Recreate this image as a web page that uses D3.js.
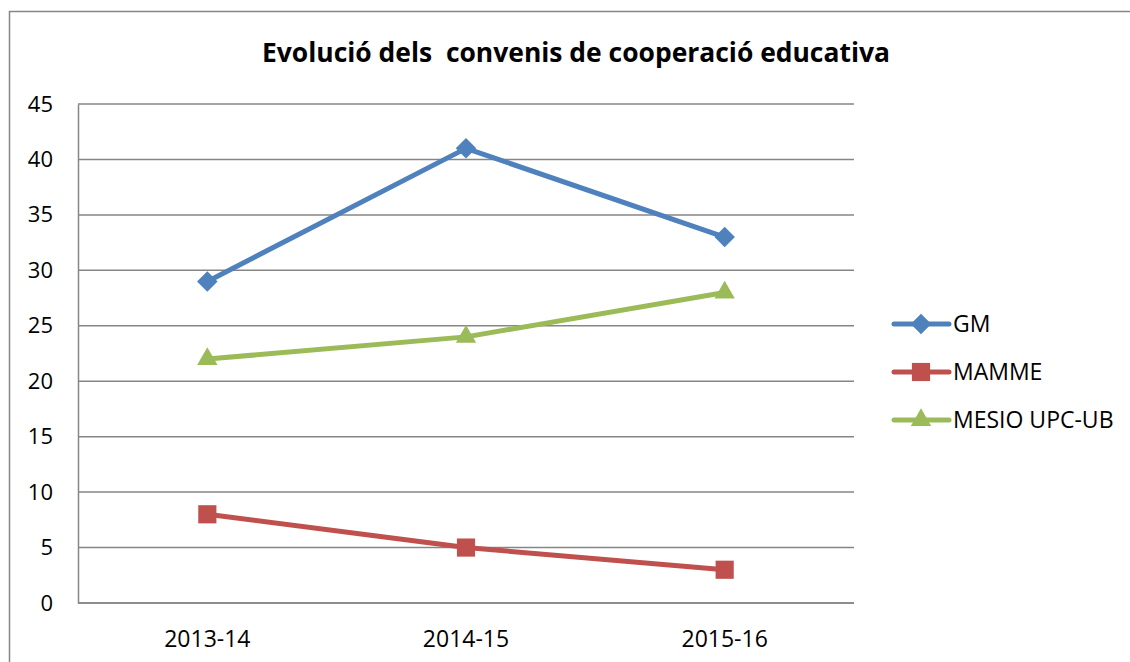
<script src="https://cdn.jsdelivr.net/npm/d3@7"></script>
<style>
  body { margin: 0; background: #fff; }
  svg { display: block; }
  text { font-family: "Open Sans", "Noto Sans", sans-serif; fill: #000; }
</style>
<body></body>
<script>
  // data
  var categories = ["2013-14", "2014-15", "2015-16"];
  var seriesNames = ["GM", "MAMME", "MESIO UPC-UB"];
  var gmValues = [29, 41, 33];
  var mammeValues = [8, 5, 3];
  var mesioValues = [22, 24, 28];
  var yTicks = [0, 5, 10, 15, 20, 25, 30, 35, 40, 45];
  var title = "Evolució dels  convenis de cooperació educativa";

  var width = 1130, height = 662;
  var margin = {top: 104, right: 276, bottom: 59, left: 78};
  var colors = ["#4F81BD", "#C0504D", "#9BBB59"];
  var shapes = ["diamond", "square", "triangle"];
  var series = seriesNames.map(function(n, i) {
    return {name: n, values: [gmValues, mammeValues, mesioValues][i], color: colors[i], shape: shapes[i]};
  });

  // marker shapes (diamond = rotated square)
  function marker(shape) {
    if (shape === 'diamond') return d3.symbol().type(d3.symbolSquare).size(210)();
    if (shape === 'square') return d3.symbol().type(d3.symbolSquare).size(330)();
    return d3.symbol().type(d3.symbolTriangle).size(180)();
  }
  function rot(shape) { return shape === 'diamond' ? ' rotate(45)' : ''; }

  var svg = d3.select('body').append('svg')
    .attr('width', width).attr('height', height);

  // outer chart frame
  svg.append('rect')
    .attr('x', 9.5).attr('y', 11.5)
    .attr('width', 1140).attr('height', 700)
    .attr('fill', 'none').attr('stroke', '#868686').attr('stroke-width', 1.5);

  var xScale = d3.scaleBand()
    .domain(categories)
    .range([margin.left, width - margin.right]);
  var yScale = d3.scaleLinear()
    .domain([0, 45])
    .range([height - margin.bottom, margin.top]);

  // gridlines
  svg.append('g').selectAll('line')
    .data(yTicks)
    .enter().append('line')
    .attr('x1', margin.left).attr('x2', width - margin.right)
    .attr('y1', d => yScale(d)).attr('y2', d => yScale(d))
    .attr('stroke', '#868686').attr('stroke-width', 1.5);

  // y axis
  var yAxis = svg.append('g')
    .attr('transform', 'translate(' + [margin.left, 0] + ')')
    .call(d3.axisLeft(yScale).tickValues(yTicks).tickSize(0).tickPadding(25));
  yAxis.select('.domain').attr('stroke', '#868686').attr('stroke-width', 1.5);
  yAxis.selectAll('text').style('font-size', '22px').attr('fill', '#000')
    .style('font-family', '"Open Sans", sans-serif');

  // x axis
  var xAxis = svg.append('g')
    .attr('transform', 'translate(' + [0, height - margin.bottom] + ')')
    .call(d3.axisBottom(xScale).tickSize(0).tickPadding(28));
  xAxis.select('.domain').attr('d', 'M' + margin.left + ',0H' + (width - margin.right))
    .attr('stroke', '#868686').attr('stroke-width', 1.5);
  xAxis.selectAll('text').style('font-size', '23px').attr('fill', '#000')
    .style('font-family', '"Open Sans", sans-serif');

  var cx = d => xScale(d) + xScale.bandwidth() / 2;
  var line = d3.line()
    .x((d, i) => cx(categories[i]))
    .y(d => yScale(d));

  series.forEach(function(s) {
    svg.append('path')
      .datum(s.values)
      .attr('d', line)
      .attr('fill', 'none')
      .attr('stroke', s.color)
      .attr('stroke-width', 5)
      .attr('stroke-linejoin', 'round');
    svg.append('g').selectAll('path')
      .data(s.values)
      .enter().append('path')
      .attr('d', marker(s.shape))
      .attr('transform', (d, i) => 'translate(' + [cx(categories[i]), yScale(d)] + ')' + rot(s.shape))
      .attr('fill', s.color);
  });

  // title
  svg.append('text')
    .attr('x', 576).attr('y', 62)
    .attr('text-anchor', 'middle')
    .style('font-size', '26px').style('font-weight', 'bold')
    .style('white-space', 'pre')
    .attr('textLength', 628).attr('lengthAdjust', 'spacingAndGlyphs')
    .text(title);

  // legend
  var legend = svg.append('g').selectAll('g')
    .data(series)
    .enter().append('g')
    .attr('transform', (d, i) => 'translate(' + [894, 324 + i * 48] + ')');
  legend.append('line')
    .attr('x1', 0).attr('x2', 55)
    .attr('stroke', d => d.color).attr('stroke-width', 5).attr('stroke-linecap', 'round');
  legend.append('path')
    .attr('d', d => marker(d.shape))
    .attr('transform', d => 'translate(27,0)' + rot(d.shape))
    .attr('fill', d => d.color);
  legend.append('text')
    .attr('x', 59).attr('y', 8)
    .style('font-size', '23px')
    .text(d => d.name);
</script>
